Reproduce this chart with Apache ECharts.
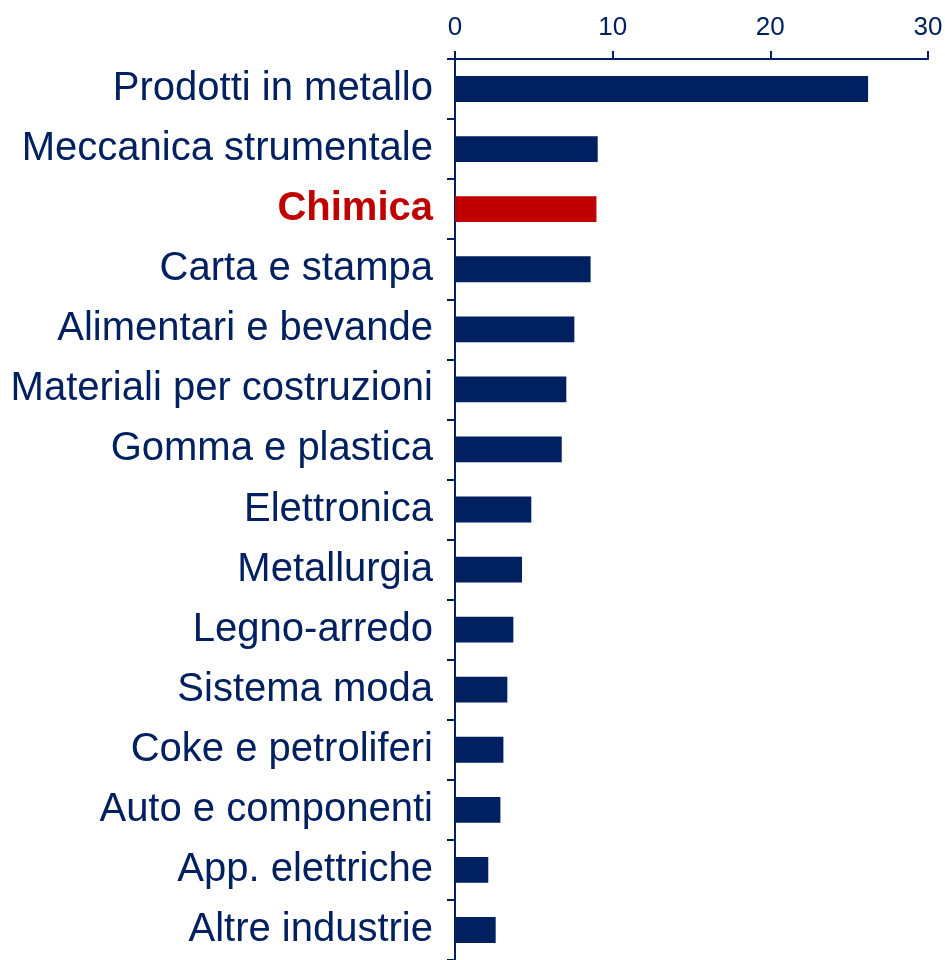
<!DOCTYPE html>
<html>
<head>
<meta charset="utf-8">
<script src="https://cdn.jsdelivr.net/npm/echarts@6/dist/echarts.min.js"></script>
<style>
  html, body { margin: 0; padding: 0; background: #fff; }
  #chart { width: 945px; height: 960px; }
</style>
</head>
<body>
<div id="chart"></div>
<script>
// settori, dall'alto verso il basso
const categories = [
  'Prodotti in metallo', 'Meccanica strumentale', 'Chimica', 'Carta e stampa',
  'Alimentari e bevande', 'Materiali per costruzioni', 'Gomma e plastica',
  'Elettronica', 'Metallurgia', 'Legno-arredo', 'Sistema moda',
  'Coke e petroliferi', 'Auto e componenti', 'App. elettriche', 'Altre industrie'
];
const values = [26.2, 9.05, 8.97, 8.6, 7.57, 7.06, 6.77, 4.84, 4.25, 3.7, 3.32, 3.07, 2.88, 2.11, 2.58];
const highlight = 'Chimica';
const xTicks = [0, 10, 20, 30];

const navy = '#002060';
const red = '#C00000';
const font = '"Liberation Sans Narrow", "Liberation Sans", Arial, sans-serif';

let chart = echarts.init(document.getElementById('chart'));

chart.setOption({
  animation: false,
  backgroundColor: '#fff',
  grid: { left: 455, right: 17, top: 59, bottom: 0, containLabel: false, outerBoundsMode: 'none' },
  xAxis: {
    type: 'value',
    position: 'top',
    min: xTicks[0],
    max: xTicks[xTicks.length - 1],
    interval: 10,
    axisLine: { show: true, lineStyle: { color: navy, width: 2 } },
    axisTick: { show: true, length: 8, lineStyle: { color: navy, width: 2 } },
    splitLine: { show: false },
    axisLabel: { color: navy, fontSize: 26, fontFamily: font, margin: 18 }
  },
  yAxis: {
    type: 'category',
    inverse: true,
    data: categories,
    axisLine: { show: true, lineStyle: { color: navy, width: 2 } },
    axisTick: { show: true, length: 8, lineStyle: { color: navy, width: 2 } },
    axisLabel: {
      fontSize: 40,
      fontFamily: font,
      color: navy,
      margin: 22,
      // Chimica in rosso e grassetto
      formatter: function (v) {
        return v === highlight ? '{hi|' + v + '}' : v;
      },
      rich: {
        hi: { color: red, fontWeight: 'bold', fontSize: 40, fontFamily: font }
      }
    }
  },
  series: [{
    type: 'bar',
    barWidth: '43%',
    data: values.map(function (v, i) {
      return { value: v, itemStyle: { color: categories[i] === highlight ? red : navy } };
    })
  }]
});
</script>
</body>
</html>
